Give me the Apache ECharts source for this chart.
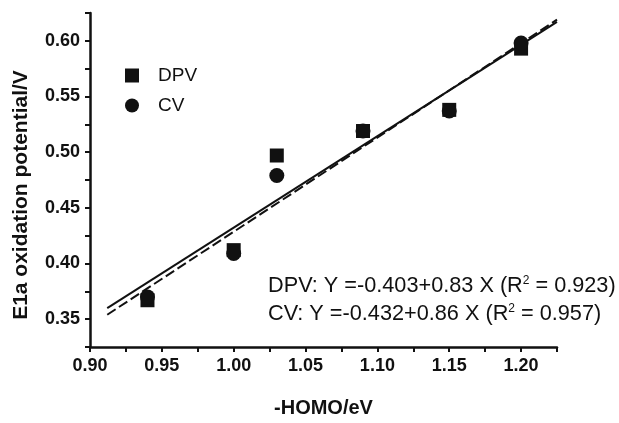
<!DOCTYPE html>
<html lang="en">
<head>
    <meta charset="UTF-8">
    <title>E1a oxidation potential vs -HOMO</title>
    <script src="https://cdn.jsdelivr.net/npm/echarts@6/dist/echarts.min.js"></script>
    <style>
        html, body { margin: 0; padding: 0; background: #fff; }
        #main { width: 619px; height: 423px; }
    </style>
</head>
<body>
<div id="main"></div>
<script>
    // values
    var homo = [0.94, 1.00, 1.03, 1.09, 1.15, 1.20];
    var dpv = [0.367, 0.412, 0.497, 0.519, 0.538, 0.593];
    var cv = [0.370, 0.409, 0.479, 0.519, 0.537, 0.598];

    // fit line ends as drawn
    var fitX = [0.912, 1.225];
    var dpvFit = [0.360, 0.617];
    var cvFit = [0.354, 0.619];

    var eqDpv = ['DPV: Y =-0.403+0.83 X (R', '2', ' = 0.923)'];
    var eqCv = ['CV: Y =-0.432+0.86 X (R', '2', ' = 0.957)'];

    function pairs(xs, ys) {
        return xs.map(function (x, i) { return [x, ys[i]]; });
    }

    function majorOnly(v) {
        var k = Math.round(v / 0.05);
        return Math.abs(k * 0.05 - v) < 1e-6 ? v.toFixed(2) : '';
    }

    var font = '"Liberation Sans", Arial, sans-serif';
    var black = '#111';

    var chart = echarts.init(document.getElementById('main'));

    var axisCommon = {
        type: 'value',
        interval: 0.025,
        splitLine: { show: false },
        axisLine: { show: true, onZero: false, lineStyle: { color: black, width: 2.5 } },
        axisTick: { show: true, inside: false, length: 5, lineStyle: { color: black, width: 2 } },
        axisLabel: {
            color: black, fontFamily: font, fontWeight: 'bold', fontSize: 18,
            margin: 10, formatter: majorOnly, showMinLabel: true, showMaxLabel: true
        },
        nameLocation: 'middle',
        nameTextStyle: { color: black, fontFamily: font, fontWeight: 'bold', fontSize: 20 }
    };

    function richText(parts) {
        return '{a|' + parts[0] + '}{s|' + parts[1] + '}{a|' + parts[2] + '}';
    }
    var richStyle = {
        a: { fontFamily: font, fontSize: 21.7, fill: black, color: black },
        s: { fontFamily: font, fontSize: 12, fill: black, color: black, verticalAlign: 'top', padding: [0, 0, 11, 0] }
    };

    chart.setOption({
        backgroundColor: '#fff',
        animation: false,
        grid: { left: 90, right: 62, top: 13, bottom: 62 },
        xAxis: Object.assign({}, axisCommon, {
            min: 0.90, max: 1.225,
            name: '-HOMO/eV', nameGap: 51
        }),
        yAxis: Object.assign({}, axisCommon, {
            min: 0.325, max: 0.625,
            name: 'E1a oxidation potential/V', nameGap: 58,
            nameTextStyle: Object.assign({}, axisCommon.nameTextStyle, { fontSize: 21, padding: [0, 30, 0, 0] })
        }),
        legend: {
            orient: 'vertical',
            left: 120, top: 61,
            itemWidth: 14, itemHeight: 14, itemGap: 11,
            textStyle: { color: black, fontFamily: font, fontSize: 19, padding: [0, 0, 0, 14] },
            data: [{ name: 'DPV', icon: 'rect' }, { name: 'CV', icon: 'circle' }]
        },
        series: [
            {
                name: 'DPV', type: 'scatter', symbol: 'rect', symbolSize: 14,
                itemStyle: { color: black, opacity: 1 }, data: pairs(homo, dpv), z: 3
            },
            {
                name: 'CV', type: 'scatter', symbol: 'circle', symbolSize: 15,
                itemStyle: { color: black, opacity: 1 }, data: pairs(homo, cv), z: 4
            },
            {
                name: 'DPV fit', type: 'line', showSymbol: false, symbol: 'none',
                lineStyle: { color: black, width: 2 }, data: pairs(fitX, dpvFit), z: 2
            },
            {
                name: 'CV fit', type: 'line', showSymbol: false, symbol: 'none',
                lineStyle: { color: black, width: 2, type: [10, 4] }, data: pairs(fitX, cvFit), z: 2
            }
        ],
        graphic: [
            {
                type: 'text', left: 268, top: 275,
                style: { text: richText(eqDpv), rich: richStyle }
            },
            {
                type: 'text', left: 268, top: 303,
                style: { text: richText(eqCv), rich: richStyle }
            }
        ]
    });
</script>
</body>
</html>
